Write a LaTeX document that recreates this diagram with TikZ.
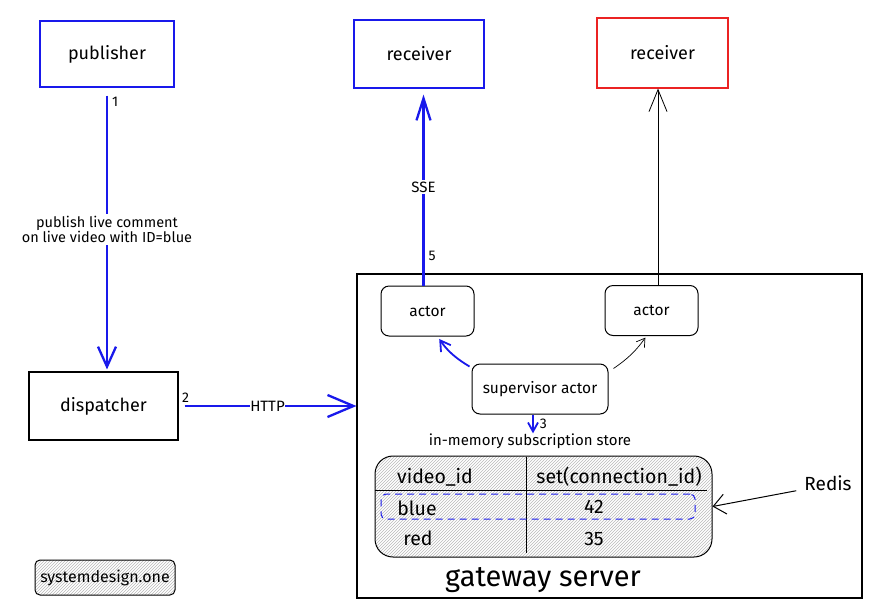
\documentclass[tikz,border=0pt]{standalone}
\usepackage{fontspec}
\setmainfont{Fira Sans}
\usetikzlibrary{arrows.meta,positioning,patterns,calc}
\definecolor{inkblue}{RGB}{25,25,235}
\definecolor{inkred}{RGB}{235,35,35}
\newcommand{\fsz}[1]{\fontsize{#1}{#1}\selectfont}

\begin{document}
\begin{tikzpicture}[x=1pt, y=-1pt,
  box/.style    = {draw, line width=1.1pt, inner sep=0pt,
                   minimum width=134pt, minimum height=66pt, font=\fsz{18}},
  actbox/.style = {draw, line width=1pt, rounded corners=8pt, inner sep=0pt,
                   minimum width=93pt, minimum height=50pt, font=\fsz{15.5}},
  hatch/.style  = {pattern=north east lines, pattern color=gray!55},
  arr/.style    = {-{Straight Barb[length=20pt, width=18pt]}, line width=2.3pt, inkblue},
  thinarr/.style= {-{Straight Barb[length=8pt, width=10pt]}, line width=0.7pt},
  tag/.style    = {font=\fsz{14}, inner sep=1pt, text=black},
  lbl/.style    = {font=\fsz{14.5}, fill=white, inner sep=2pt, align=center, text=black},
  cell/.style   = {font=\fsz{19.5}, inner sep=0pt}
]
\useasboundingbox (0,0) rectangle (869,611);

% outside world
\node[box, draw=inkblue] (publisher) at (107,54) {publisher};
\node[box, draw=inkblue, minimum width=130pt, minimum height=68pt] (recvb) at (419,54) {receiver};
\node[box, draw=inkred, minimum width=131pt, minimum height=70pt] (recvr) at (662.5,53) {receiver};
\node[box, minimum width=149pt, minimum height=68pt] (dispatcher) at (103.5,406) {dispatcher};

% gateway server
\node[draw, line width=1.1pt, minimum width=505pt, minimum height=324pt] (gw) at (609.5,436) {};
\node[font=\fsz{29}, inner sep=0pt] (gwlabel) at (543,580) {gateway server};

\node[actbox] (actorl) at (427.5,311) {actor};
\node[actbox] (actorr) at (651.5,310.5) {actor};
\node[actbox, minimum width=136pt] (super) at (540,389) {supervisor actor};

\node[font=\fsz{15}, inner sep=0pt] (memlbl) at (530,441) {in-memory subscription store};

% subscription table
\node[draw, line width=1pt, rounded corners=18pt, hatch,
      minimum width=337pt, minimum height=101pt] (store) at (543.5,506.5) {};
\coordinate (hdrl) at (375,490);
\coordinate (hdrr) at (707,490);
\coordinate (coltop) at (526,457);
\coordinate (colbot) at (526,553);
\draw[line width=1pt] (hdrl) -- (hdrr);
\draw[line width=1pt] (coltop) -- (colbot);
\node[draw=inkblue, line width=1pt, dash pattern=on 7pt off 5pt,
      rounded corners=5pt, minimum width=314pt, minimum height=25pt] (bluerow) at (538,506.5) {};

\node[cell] (hid) at (435,477) {video\_id};
\node[cell] (hset) at (619,477) {set(connection\_id)};
\node[cell] (kblue) at (417,508) {blue};
\node[cell] (vblue) at (594,507) {42};
\node[cell] (kred) at (418,538) {red};
\node[cell] (vred) at (594,539) {35};

\node[font=\fsz{19}, inner sep=0pt] (redis) at (828,483) {Redis};

\node[draw, line width=1pt, rounded corners=5pt, hatch, minimum width=140pt,
      minimum height=35pt, font=\fsz{16}] (brand) at (105,577.5) {systemdesign.one};

% flows
\draw[arr, shorten <=8pt, shorten >=2pt] (publisher.south) -- (publisher.south |- dispatcher.north)
     node[tag, pos=0.05, right=3pt]{1}
     node[lbl, midway]{publish live comment\\[1pt]on live video with ID=blue};

\draw[arr, -{Straight Barb[length=26pt, width=22pt]}, shorten <=6pt]
     (dispatcher.east) -- (dispatcher.east -| gw.west)
     node[tag, pos=0.0, above right=2pt]{2}
     node[lbl, midway, inner sep=0pt, font=\fsz{15}]{HTTP};

\draw[arr, line width=1.8pt, -{Straight Barb[length=9pt, width=10pt]}]
     ([xshift=-7pt]super.south) -- ([xshift=-7pt]super.south |- memlbl.north)
     node[tag, midway, right=5pt]{3};

\draw[arr, line width=1.8pt, -{Straight Barb[length=10pt, width=12pt]}, shorten >=3pt]
     ([xshift=-2pt,yshift=-3pt]super.north west) to[bend left=12] ([xshift=10pt]actorl.south)
     node[tag, pos=0.45, above right=2pt]{4};

\draw[thinarr, shorten >=2pt]
     ([xshift=5pt,yshift=-5pt]super.north east) to[bend right=10] ([xshift=-5pt]actorr.south);

\draw[arr, -{Straight Barb[length=22pt, width=14pt]}, shorten >=6pt]
     ([xshift=-4pt]actorl.north) -- ([xshift=-4pt]actorl.north |- recvb.south)
     node[tag, pos=0.15, right=3pt]{5}
     node[lbl, pos=0.5, font=\fsz{15}]{SSE};

\draw[-{Straight Barb[length=22pt, width=18pt]}, line width=0.8pt]
     ([xshift=6.5pt]actorr.north) -- ([xshift=6.5pt]actorr.north |- recvr.south);

\draw[-{Straight Barb[length=12pt, width=20pt]}, line width=1pt]
     ([xshift=-8pt]redis.south west) -- (store.east);

\end{tikzpicture}
\end{document}
